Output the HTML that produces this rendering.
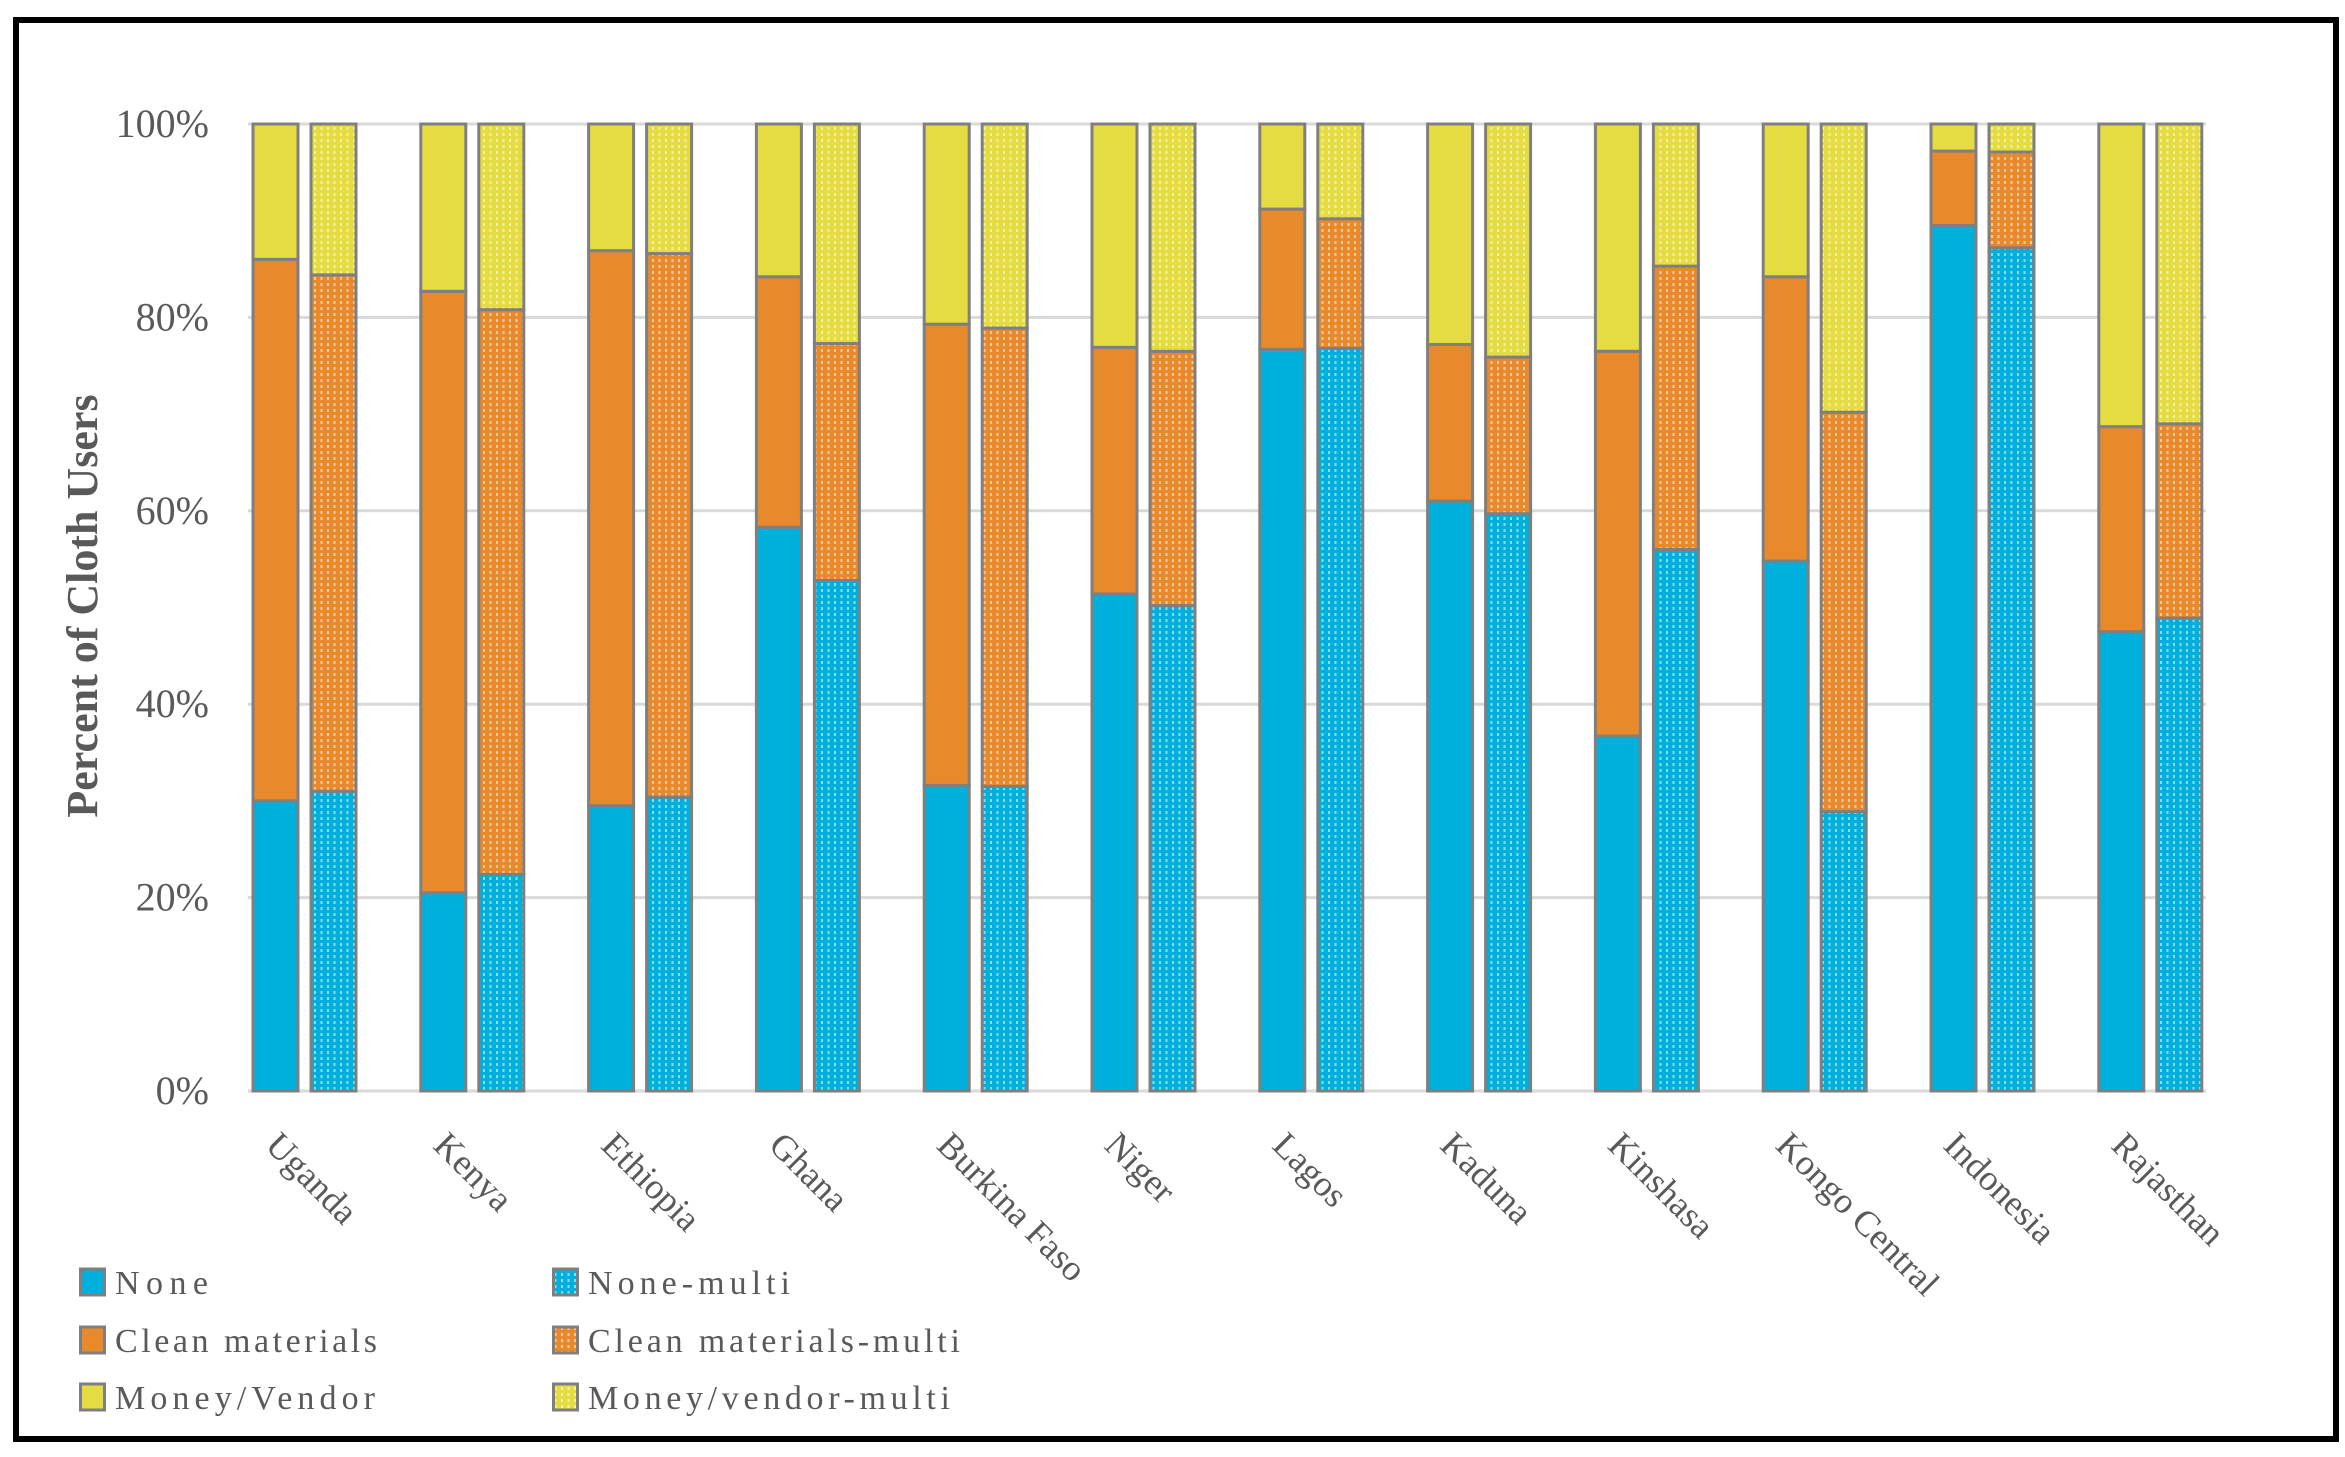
<!DOCTYPE html>
<html><head><meta charset="utf-8"><style>
html,body{margin:0;padding:0;background:#fff}
svg{display:block}
text{font-family:"Liberation Serif",serif;fill:#595959}
</style></head><body>
<svg id="chart" width="2345" height="1457" viewBox="0 0 2345 1457">
<defs>
<pattern id="dots" width="6.5" height="6" patternUnits="userSpaceOnUse">
<rect x="2" y="1" width="2" height="3" fill="#fff" opacity="0.55"/>
</pattern>
</defs>
<rect x="16" y="20" width="2320" height="1419" fill="#fff" stroke="#000" stroke-width="6"/>
<g id="grid"></g>
<g id="bars"></g>
<g id="yticks"></g>
<g id="xlabels"></g>
<text transform="translate(97,606) rotate(-90)" text-anchor="middle" font-size="44" font-weight="bold" style="fill:#595959">Percent of Cloth Users</text>
<g id="legend"></g>
</svg>
<script>
const categories=["Uganda","Kenya","Ethiopia","Ghana","Burkina Faso","Niger","Lagos","Kaduna","Kinshasa","Kongo Central","Indonesia","Rajasthan"];
const noneSolid=[30,20.5,29.5,58.3,31.6,51.4,76.7,61,36.7,54.8,89.5,47.5];
const cleanSolid=[56,62.2,57.4,25.9,47.7,25.5,14.5,16.2,39.8,29.4,7.7,21.2];
const moneySolid=[14,17.3,13.1,15.8,20.7,23.1,8.8,22.8,23.5,15.8,2.8,31.3];
const noneMulti=[31,22.4,30.4,52.8,31.5,50.2,76.8,59.7,56,28.9,87.2,48.9];
const cleanMulti=[53.4,58.4,56.2,24.5,47.4,26.3,13.4,16.2,29.3,41.3,9.9,20.1];
const moneyMulti=[15.6,19.2,13.4,22.7,21.1,23.5,9.8,24.1,14.7,29.8,2.9,31];
const yTicks=[0,20,40,60,80,100];
const legendLabels=["None","None-multi","Clean materials","Clean materials-multi","Money/Vendor","Money/vendor-multi"];

const NS="http://www.w3.org/2000/svg";
const Y0=1091,Y100=124,X0=248,X1=2206;
const y=v=>Y0-(Y0-Y100)*v/100;
const groupLeft=i=>253+i*167.8;
const BW=45,GAP=13;
const colors={none:"#00B0DC",clean:"#E8892C",money:"#E5DC41"};
function mk(tag,attrs,parent){const e=document.createElementNS(NS,tag);for(const k in attrs)e.setAttribute(k,attrs[k]);parent.appendChild(e);return e;}

const grid=document.getElementById("grid"),yt=document.getElementById("yticks");
yTicks.forEach(t=>{
  const l=mk("line",{x1:X0,x2:X1,y1:y(t),y2:y(t),stroke:"#D9D9D9","stroke-width":3},grid);
  
  
  const tx=mk("text",{x:209,y:y(t)+13,"text-anchor":"end","font-size":40},yt);
  tx.textContent=t+"%";
  
  
});

const bars=document.getElementById("bars");
function stack(x,vals,names,multi,cat){
  let cum=0;
  vals.forEach((v,k)=>{
    const top=y(cum+v),bot=y(cum);
    const r=mk("rect",{x:x,y:top,width:BW,height:bot-top,fill:colors[names[k]],stroke:"#7F7F7F","stroke-width":3},bars);
    
    
    if(multi){const p=mk("rect",{x:x+1.5,y:top+1.5,width:BW-3,height:Math.max(0,bot-top-3),fill:"url(#dots)"},bars);
      
      }
    cum+=v;
  });
}
categories.forEach((c,i)=>{
  const gx=groupLeft(i);
  stack(gx,[noneSolid[i],cleanSolid[i],moneySolid[i]],["none","clean","money"],false,c);
  stack(gx+BW+GAP,[noneMulti[i],cleanMulti[i],moneyMulti[i]],["none","clean","money"],true,c);
  const t=mk("text",{transform:`translate(${gx+30},${1128}) rotate(45)`,"font-size":36,dy:"0.75em"},document.getElementById("xlabels"));
  t.textContent=c;
  
  
});

const lg=document.getElementById("legend");
const lgCols=[79,552],lgRows=[1282,1340,1397];
const lgKeys=["none","none","clean","clean","money","money"];
const lgW=[93,202,262,372,260,362];
legendLabels.forEach((lab,i)=>{
  const cx=lgCols[i%2],cy=lgRows[Math.floor(i/2)];
  const g=mk("g",{},lg);
  
  
  mk("rect",{x:cx+1.5,y:cy-13,width:24,height:26,fill:colors[lgKeys[i]],stroke:"#7F7F7F","stroke-width":3},g);
  if(i%2) mk("rect",{x:cx+3,y:cy-11.5,width:21,height:23,fill:"url(#dots)"},g);
  const t=mk("text",{x:cx+36,y:cy+12,"font-size":34,textLength:lgW[i],lengthAdjust:"spacing"},g);
  t.textContent=lab;
});
</script>
</body></html>
